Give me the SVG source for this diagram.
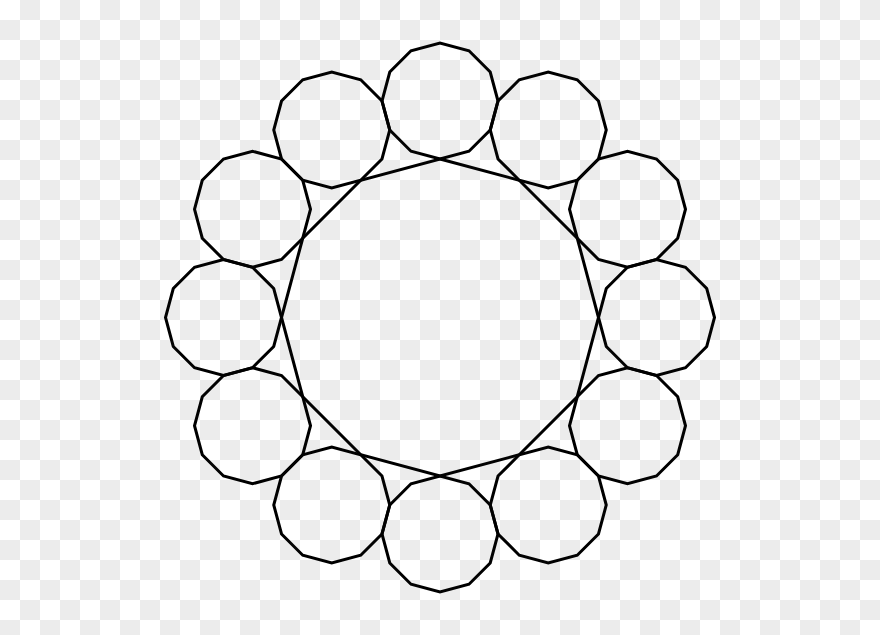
<svg xmlns="http://www.w3.org/2000/svg" xmlns:xlink="http://www.w3.org/1999/xlink" width="880" height="635" viewBox="0 0 880 635">
  <defs>
    <pattern id="checker" x="0" y="0" width="40" height="40" patternUnits="userSpaceOnUse">
      <rect x="0" y="0" width="40" height="40" fill="#ffffff"/>
      <rect x="20" y="0" width="20" height="20" fill="#ececec"/>
      <rect x="0" y="20" width="20" height="20" fill="#ececec"/>
    </pattern>
    <polygon id="dodeca" points="58,0 50.229,-29 29,-50.229 0,-58 -29,-50.229 -50.229,-29 -58,0 -50.229,29 -29,50.229 0,58 29,50.229 50.229,29"/>
  </defs>
  <style>
    .shape { fill: none; stroke: #000000; stroke-width: 3; stroke-linejoin: miter; }
  </style>
  <rect x="0" y="0" width="880" height="635" fill="url(#checker)"/>
  <g id="ring" class="shape">
    <g id="d1"><use xlink:href="#dodeca" href="#dodeca" x="440" y="101"/></g>
    <g id="d2"><use xlink:href="#dodeca" href="#dodeca" x="548.25" y="130.006"/></g>
    <g id="d3"><use xlink:href="#dodeca" href="#dodeca" x="627.494" y="209.25"/></g>
    <g id="d4"><use xlink:href="#dodeca" href="#dodeca" x="656.5" y="317.5"/></g>
    <g id="d5"><use xlink:href="#dodeca" href="#dodeca" x="627.494" y="425.75"/></g>
    <g id="d6"><use xlink:href="#dodeca" href="#dodeca" x="548.25" y="504.994"/></g>
    <g id="d7"><use xlink:href="#dodeca" href="#dodeca" x="440" y="534"/></g>
    <g id="d8"><use xlink:href="#dodeca" href="#dodeca" x="331.75" y="504.994"/></g>
    <g id="d9"><use xlink:href="#dodeca" href="#dodeca" x="252.506" y="425.75"/></g>
    <g id="d10"><use xlink:href="#dodeca" href="#dodeca" x="223.5" y="317.5"/></g>
    <g id="d11"><use xlink:href="#dodeca" href="#dodeca" x="252.506" y="209.25"/></g>
    <g id="d12"><use xlink:href="#dodeca" href="#dodeca" x="331.75" y="130.006"/></g>
  </g>
  <g id="center" class="shape">
    <polygon points="440,159 519.25,180.235 577.265,238.25 598.5,317.5 577.265,396.75 519.25,454.765 440,476 360.75,454.765 302.735,396.75 281.5,317.5 302.735,238.25 360.75,180.235"/>
  </g>
</svg>
